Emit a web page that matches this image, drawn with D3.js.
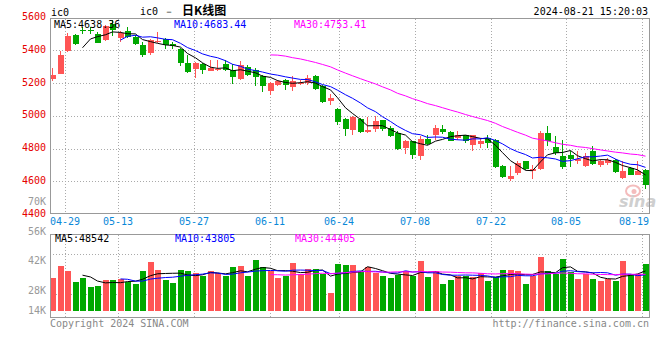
<!DOCTYPE html>
<html><head><meta charset="utf-8">
<script src="https://cdn.jsdelivr.net/npm/d3@7"></script>
<style>body{margin:0;background:#fff} svg{display:block}</style>
</head><body><svg id="c" width="660" height="360"></svg>
<script>
// ---------- data ----------
const dates = ["04-26","04-29","04-30",
 "05-06","05-07","05-08","05-09","05-10","05-13","05-14","05-15","05-16","05-17",
 "05-20","05-21","05-22","05-23","05-24","05-27","05-28","05-29","05-30","05-31",
 "06-03","06-04","06-05","06-06","06-07","06-11","06-12","06-13","06-14",
 "06-17","06-18","06-19","06-20","06-21","06-24","06-25","06-26","06-27","06-28",
 "07-01","07-02","07-03","07-04","07-05","07-08","07-09","07-10","07-11","07-12",
 "07-15","07-16","07-17","07-18","07-19","07-22","07-23","07-24","07-25","07-26",
 "07-29","07-30","07-31","08-01","08-02","08-05","08-06","08-07","08-08","08-09",
 "08-12","08-13","08-14","08-15","08-16","08-19","08-20","08-21"];
const open = [5225,5257,5394,5496,5526,5526,5502,5465,5561,5475,
 5516,5481,5435,5384,5449,5471,5441,5410,5323,5288,
 5317,5276,5278,5319,5282,5227,5298,5278,5245,5154,
 5190,5219,5174,5196,5198,5243,5180,5088,5044,4981,
 4915,4981,4899,4922,4971,4926,4895,4803,4844,4757,
 4860,4881,4920,4901,4864,4881,4824,4828,4864,4854,
 4691,4614,4651,4722,4661,4677,4895,4810,4757,4763,
 4722,4691,4787,4702,4712,4732,4620,4681,4640,4671];
const high = [5292,5394,5506,5500,5540,5540,5512,5553,5587,5516,
 5540,5496,5451,5471,5512,5475,5451,5414,5369,5329,
 5323,5343,5343,5339,5313,5333,5312,5292,5251,5204,
 5221,5225,5241,5221,5247,5247,5190,5133,5048,4987,
 5001,4987,4993,4997,4977,4936,4905,4854,4848,4875,
 4881,4942,4942,4905,4905,4885,4885,4864,4881,4860,
 4701,4691,4722,4726,4702,4905,4940,4875,4850,4787,
 4783,4773,4814,4736,4742,4738,4722,4685,4722,4677];
const low = [5211,5255,5390,5433,5500,5500,5443,5459,5486,5451,
 5475,5435,5357,5374,5445,5410,5410,5302,5262,5231,
 5255,5272,5272,5272,5194,5221,5241,5180,5145,5129,
 5184,5158,5150,5190,5190,5160,5078,5068,4946,4879,
 4885,4895,4895,4899,4905,4869,4793,4767,4738,4732,
 4820,4854,4891,4844,4854,4834,4787,4803,4803,4681,
 4620,4600,4640,4671,4616,4671,4818,4763,4675,4687,
 4703,4687,4702,4685,4702,4651,4614,4636,4636,4555];
const close = [5251,5374,5490,5439,5522,5520,5445,5547,5526,5506,
 5481,5439,5374,5463,5455,5431,5424,5323,5268,5323,
 5278,5292,5286,5282,5237,5308,5249,5235,5180,5200,
 5210,5190,5210,5200,5231,5166,5084,5109,4962,4922,
 4993,4901,4915,4966,4922,4875,4799,4848,4763,4860,
 4828,4926,4901,4848,4885,4848,4881,4848,4834,4687,
 4624,4634,4712,4677,4675,4895,4848,4773,4687,4736,
 4736,4757,4706,4726,4732,4655,4661,4640,4661,4575];
const volume = [39600,54500,48400,34800,39600,28700,29900,37200,37200,38400,
 35500,32300,48400,59300,49700,37500,33500,49300,48100,45700,
 42700,48100,45700,42700,52900,54100,42000,61400,52900,48400,
 39600,42000,58100,44400,50500,50500,44400,21400,56600,55300,
 55300,48100,52900,45700,42000,39600,43200,48100,42000,60200,
 40800,48100,32300,37200,42000,42000,40800,45700,36000,40800,
 49300,49300,48100,32300,42000,65000,48100,44400,62600,46900,
 38400,44400,38400,36000,38400,36300,60600,44400,44400,56900];
const priceTicks = [4400,4600,4800,5000,5200,5400,5600];
const volTicks = [14000,28000,42000,56000,70000];
const volTickLabels = ["14K","28K","42K","56K","70K"];
const dateTicks = ["04-29","05-13","05-27","06-11","06-24","07-08","07-22","08-05","08-19"];
const maPeriods = [5,10,30];
const maLabels = ["MA5:4638.36","MA10:4683.44","MA30:4753.41"];
const volMaLabels = ["MA5:48542","MA10:43805","MA30:44405"];
const titleCode = "ic0";
const titleText = "日K线图";
const timeStamp = "2024-08-21 15:20:03";
const copyright = "Copyright 2024 SINA.COM";
const url = "http://finance.sina.com.cn";

// ---------- layout ----------
const svg = d3.select("#c");
const L = 50, R = 650;
const pTop = 18.5, pBot = 213.5, vTop = 234.5, vBot = 317.5;
const UP = "#ff5555", DOWN = "#00a800";
const maColors = ["#000000", "#0000ff", "#ff00ff"];
const mono = "'DejaVu Sans Mono', 'Liberation Mono', monospace";
const n = close.length;

const xb = d3.scaleBand().domain(d3.range(n)).range([L, R]).paddingInner(0.2).paddingOuter(0.1);
const xl = i => Math.floor(xb(i));
const xc = i => xl(i) + 2.5;
const xg = d3.scaleLinear().domain([-1, n - 2]).range([L, R]);
const y = d3.scaleLinear().domain([4400, 5600]).range([214, 17.5]);
const yv = d3.scaleLinear().domain([0, 93000]).range([311, 234.2]);
const yvLab = d3.scaleLinear().domain(volTicks).range([310, 290.3, 260.7, 231, 201.3]);
const vGrid = d3.scaleLinear().domain([0, 4]).range([234.5, 314.5]);

const gridCol = "#aaaaaa";
// ---- grids ----
const g = svg.append("g").attr("shape-rendering", "crispEdges");
priceTicks.slice(1, -1).forEach(v => {
  const yy = Math.round(y(v)) + 0.5;
  g.append("line").attr("x1", L).attr("x2", R).attr("y1", yy).attr("y2", yy)
    .attr("stroke", gridCol).attr("stroke-dasharray", "1,2");
});
[1, 3].forEach(k => {
  g.append("line").attr("x1", L).attr("x2", R).attr("y1", vGrid(k)).attr("y2", vGrid(k))
    .attr("stroke", gridCol).attr("stroke-dasharray", "1,2");
});
const gridXs = dateTicks.map(d => Math.round(xg(dates.indexOf(d))) + 0.5);
gridXs.forEach(gx => {
  if (gx > R - 3) return;
  g.append("line").attr("x1", gx).attr("x2", gx).attr("y1", pTop).attr("y2", pBot)
    .attr("stroke", gridCol).attr("stroke-dasharray", "1,2");
  g.append("line").attr("x1", gx).attr("x2", gx).attr("y1", vTop).attr("y2", vBot)
    .attr("stroke", gridCol).attr("stroke-dasharray", "1,2");
});

// ---- watermark ----
const wm = svg.append("g");
wm.append("ellipse").attr("cx", 633).attr("cy", 191).attr("rx", 7).attr("ry", 5.5)
  .attr("fill", "none").attr("stroke", "#f4bcbc").attr("stroke-width", 2);
wm.append("circle").attr("cx", 634).attr("cy", 191.5).attr("r", 2.5).attr("fill", "#f4bcbc");
wm.append("text").attr("x", 619).attr("y", 207).text("sina")
  .attr("font-family", "'DejaVu Sans', sans-serif").attr("font-size", 16).attr("font-weight", "bold")
  .attr("font-style", "italic").attr("fill", "#cfcfcf");

// ---- candles ----
const cg = svg.append("g").attr("shape-rendering", "crispEdges");
d3.range(n).forEach(i => {
  const up = close[i] >= open[i];
  const col = up ? UP : DOWN;
  const yh = Math.round(y(high[i])), ylo = Math.round(y(low[i]));
  cg.append("rect").attr("x", xl(i) + 2).attr("y", yh).attr("width", 1).attr("height", Math.max(1, ylo - yh)).attr("fill", col);
  const yt = Math.round(y(Math.max(open[i], close[i]))), yb = Math.round(y(Math.min(open[i], close[i])));
  cg.append("rect").attr("x", xl(i)).attr("y", yt).attr("width", 6).attr("height", Math.max(1, yb - yt)).attr("fill", col);
});

// ---- volume bars ----
const vg = svg.append("g").attr("shape-rendering", "crispEdges");
d3.range(n).forEach(i => {
  const col = close[i] >= open[i] ? UP : DOWN;
  const yt = Math.round(yv(volume[i]));
  vg.append("rect").attr("x", xl(i)).attr("y", yt).attr("width", 6).attr("height", yv(0) - yt).attr("fill", col);
});

// ---- moving averages ----
function movingAvg(arr, p) {
  return arr.map((v, i) => i < p - 1 ? null : d3.mean(arr.slice(i - p + 1, i + 1)));
}
maPeriods.forEach((p, k) => {
  const ma = movingAvg(close, p);
  const line = d3.line().defined(d => d[1] != null).x(d => xc(d[0])).y(d => y(d[1]));
  svg.append("path").attr("d", line(ma.map((v, i) => [i, v]))).attr("fill", "none")
    .attr("stroke", maColors[k]).attr("stroke-width", 1);
  const vma = movingAvg(volume, p);
  const vline = d3.line().defined(d => d[1] != null).x(d => xc(d[0])).y(d => yv(d[1]));
  svg.append("path").attr("d", vline(vma.map((v, i) => [i, v]))).attr("fill", "none")
    .attr("stroke", maColors[k]).attr("stroke-width", 1);
});

// ---- frames ----
const fr = svg.append("g").attr("shape-rendering", "crispEdges").attr("fill", "none").attr("stroke", "#999");
fr.append("rect").attr("x", L + 0.5).attr("y", pTop).attr("width", R - L - 1).attr("height", pBot - pTop);
fr.append("rect").attr("x", L + 0.5).attr("y", vTop).attr("width", R - L - 1).attr("height", vBot - vTop);

// ---- texts ----
function txt(x, yy, s, col, anchor, size, fam) {
  return svg.append("text").attr("x", x).attr("y", yy).text(s).attr("fill", col)
    .attr("text-anchor", anchor || "start").attr("font-size", size || 10)
    .attr("font-family", fam || mono);
}
priceTicks.forEach(v => txt(46, y(v) + 2.5, v, "#e60000", "end"));
volTicks.forEach((v, i) => txt(46, yvLab(v) + 3.6, volTickLabels[i], "#999999", "end"));
dateTicks.forEach((d, i) => {
  let gx = Math.round(xg(dates.indexOf(d)));
  const w = d.length * 6.02;
  if (gx + w / 2 > R) txt(649, 225, d, "#0a88d8", "end");
  else txt(gx, 225, d, "#0a88d8", "middle");
});
maLabels.forEach((s, k) => txt(54 + k * 120, 28, s, maColors[k]));
volMaLabels.forEach((s, k) => txt(55 + k * 120, 241.5, s, maColors[k]));

txt(51, 15.5, titleCode, "#000");
txt(140, 14.5, titleCode + " －", "#000");
txt(182, 15, titleText, "#000", "start", 12, "'Noto Sans CJK SC', sans-serif").attr("font-weight", "bold");
txt(648, 15, timeStamp, "#000", "end");
txt(50, 327, copyright, "#888888");
txt(649, 327, url, "#888888", "end");
</script>
</body></html>
